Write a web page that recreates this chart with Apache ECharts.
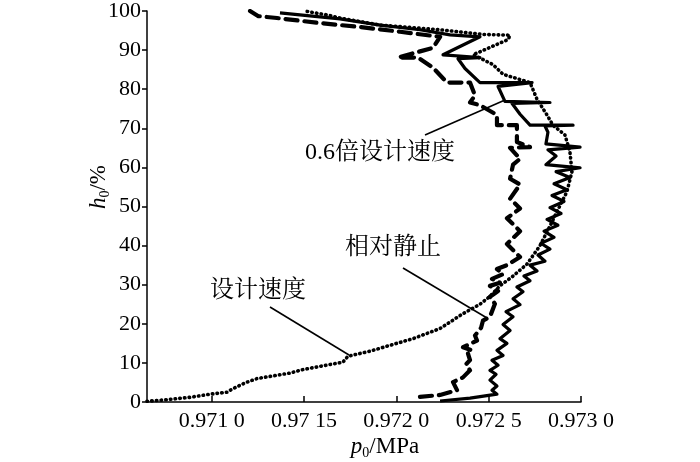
<!DOCTYPE html>
<html><head><meta charset="utf-8">
<script src="https://cdn.jsdelivr.net/npm/echarts@6/dist/echarts.min.js"></script>
<style>html,body{margin:0;padding:0;background:#fff}#c{width:700px;height:462px}</style>
</head><body><div id="c"></div>
<script>
// x-axis tick values and their printed labels
const xTickValues = [0.9710, 0.9715, 0.9720, 0.9725, 0.9730];
const xTickLabels = ['0.971 0', '0.97 15', '0.972 0', '0.972 5', '0.973 0'];
const xMin = 0.97065, xMax = 0.9730;
const yMin = 0, yMax = 100, yStep = 10;

// 设计速度 (dotted)
const designP = [0.97065,0.970737,0.970883,0.970991,0.971083,0.971099,0.971181,0.971246,0.971424,0.971495,0.971711,0.971738,0.971858,0.971966,0.97209,0.972237,0.972361,0.972453,0.972507,0.972561,0.972632,0.972708,0.972778,0.972832,0.97287,0.972924,0.972951,0.97294,0.972913,0.972848,0.972816,0.972762,0.972724,0.972578,0.972523,0.972469,0.972415,0.972605,0.972616,0.972469,0.972237,0.971912,0.971695,0.971625,0.971549,0.971506];
const designH = [0.2,0.5,1.2,2,2.5,3,4.9,6,7.4,8.3,10.2,11.7,13,14.5,16.2,18.8,22.6,25,27,29.7,32.2,35.3,40,45,48.7,53.8,58.9,64,68.3,70.8,73.4,77.4,81.7,83.8,86.3,87.6,88.8,92.7,93.8,94,95.2,96.4,98.2,99,99.6,100];

// 相对静止 (dashed)
const staticP = [0.972128,0.972237,0.972329,0.972307,0.972361,0.972399,0.972377,0.972399,0.972388,0.97241,0.972361,0.972437,0.972426,0.972459,0.972469,0.972507,0.972534,0.972507,0.972551,0.972507,0.972561,0.972518,0.972578,0.972545,0.972599,0.97267,0.972599,0.97267,0.972599,0.97267,0.972616,0.97267,0.972616,0.972632,0.97267,0.972616,0.972724,0.972653,0.972653,0.972545,0.972545,0.972453,0.972399,0.972426,0.972399,0.972274,0.972199,0.972117,0.972009,0.972199,0.972237,0.97202,0.971803,0.971571,0.971354,0.971251,0.971208];
const staticH = [1.3,1.8,3.0,5.1,6.3,8.1,9.6,10.7,12.4,13.2,14.0,15.7,17.0,19.0,20.8,21.8,25.1,26.9,28.4,29.7,30.5,31.5,32.7,34.0,35.0,37.1,40.4,43.7,47.0,49.5,52.0,55.6,57.1,60.7,62.2,65.0,65.2,66.5,70.8,70.8,73.4,75.9,76.6,78.4,81.7,81.7,85.5,88.1,88.1,90.6,93.4,94.7,95.9,97.0,98.2,98.7,100];

// 0.6倍设计速度 (solid)
const slowP = [0.972237,0.972399,0.972545,0.972518,0.972545,0.972507,0.97254,0.972507,0.972551,0.972518,0.972578,0.972545,0.972599,0.972561,0.972616,0.972578,0.972632,0.972594,0.97267,0.972632,0.972686,0.972653,0.972724,0.972691,0.972762,0.972724,0.972805,0.972767,0.972832,0.972783,0.972854,0.9728,0.972875,0.972816,0.972892,0.972832,0.972908,0.972843,0.972924,0.972854,0.97294,0.972865,0.972995,0.97281,0.972865,0.972821,0.972995,0.97281,0.972821,0.972805,0.972957,0.972724,0.97267,0.972626,0.972832,0.972588,0.972551,0.972735,0.972453,0.972372,0.972334,0.972453,0.972253,0.972453,0.972291,0.972128,0.971912,0.971695,0.971478,0.97137];
const slowH = [0.25,1.0,2.0,3.0,4.1,5.6,7.1,8.1,9.4,10.7,11.9,13.2,15.0,16.2,18.3,19.8,21.8,23.1,24.9,26.4,28.2,29.4,31.0,32.2,33.5,35.0,36.0,37.6,39.1,40.6,42.1,43.7,45.2,46.7,48.2,49.7,51.3,52.8,54.3,55.8,57.4,58.9,59.9,60.7,62.9,64.5,65.2,66.0,69.0,70.6,70.8,70.8,73.6,76.4,76.6,76.9,80.7,81.7,81.7,85.3,87.8,88.1,88.8,93.4,93.9,95.2,96.4,98.0,99.0,99.5];

const seriesNames = ['设计速度', '相对静止', '0.6倍设计速度'];

const pair = (P, H) => P.map((p, i) => [p, H[i]]);
const serif = '"Liberation Serif","Times New Roman","Noto Serif CJK SC","Noto Sans CJK SC",serif';

const chart = echarts.init(document.getElementById('c'), null, {renderer: 'canvas'});
chart.setOption({
  animation: false,
  backgroundColor: '#fff',
  grid: {left: 147, right: 119, top: 8, bottom: 60},
  xAxis: {
    type: 'value', min: xMin, max: xMax,
    splitLine: {show: false},
    axisLine: {show: true, lineStyle: {color: '#000', width: 1.5}},
    axisTick: {show: true, inside: true, length: 6, lineStyle: {color: '#000', width: 1.5}, customValues: xTickValues},
    axisLabel: {
      color: '#000', fontFamily: serif, fontSize: 22, margin: 8,
      customValues: xTickValues,
      formatter: v => { const i = xTickValues.findIndex(t => Math.abs(t - v) < 1e-7); return i >= 0 ? xTickLabels[i] : ''; }
    }
  },
  yAxis: {
    type: 'value', min: yMin, max: yMax, interval: yStep,
    splitLine: {show: false},
    axisLine: {show: true, lineStyle: {color: '#000', width: 1.5}},
    axisTick: {show: true, inside: false, length: 5, lineStyle: {color: '#000', width: 1.5}},
    axisLabel: {color: '#000', fontFamily: serif, fontSize: 22, margin: 6}
  },
  series: [
    {name: seriesNames[0], type: 'line', data: pair(designP, designH), symbol: 'none', silent: true,
     lineStyle: {color: '#000', width: 3.6, type: [0.5, 4.2], cap: 'round'}},
    {name: seriesNames[1], type: 'line', data: pair(staticP, staticH), symbol: 'none', silent: true,
     lineStyle: {color: '#000', width: 4.2, type: [12, 7], cap: 'round', join: 'round'}},
    {name: seriesNames[2], type: 'line', data: pair(slowP, slowH), symbol: 'none', silent: true,
     lineStyle: {color: '#000', width: 3.2, type: 'solid', join: 'round'}}
  ],
  graphic: [
    {type: 'text', left: 305, top: 141, style: {text: seriesNames[2], font: '24px ' + serif, fill: '#000'}},
    {type: 'text', left: 345, top: 236, style: {text: seriesNames[1], font: '24px ' + serif, fill: '#000'}},
    {type: 'text', left: 210, top: 279, style: {text: seriesNames[0], font: '24px ' + serif, fill: '#000'}},
    {type: 'line', shape: {x1: 425, y1: 135, x2: 505, y2: 100}, style: {stroke: '#000', lineWidth: 1.6}},
    {type: 'line', shape: {x1: 403, y1: 268, x2: 487, y2: 318}, style: {stroke: '#000', lineWidth: 1.6}},
    {type: 'line', shape: {x1: 270, y1: 307, x2: 349, y2: 355}, style: {stroke: '#000', lineWidth: 1.6}},
    {type: 'text', x: 385, y: 447, style: {
      text: '{i|p}{s|0}{n|/MPa}', align: 'center', verticalAlign: 'middle',
      rich: {i: {fontFamily: serif, fontSize: 23, fontStyle: 'italic', fill: '#000'},
             s: {fontFamily: serif, fontSize: 14, fill: '#000', padding: [12, 0, 0, 0]},
             n: {fontFamily: serif, fontSize: 23, fill: '#000'}}}},
    {type: 'text', x: 99, y: 187, rotation: Math.PI / 2, style: {
      text: '{i|h}{s|0}{n|/%}', align: 'center', verticalAlign: 'middle',
      rich: {i: {fontFamily: serif, fontSize: 23, fontStyle: 'italic', fill: '#000'},
             s: {fontFamily: serif, fontSize: 14, fill: '#000', padding: [12, 0, 0, 0]},
             n: {fontFamily: serif, fontSize: 23, fill: '#000'}}}}
  ]
});
</script>
</body></html>
